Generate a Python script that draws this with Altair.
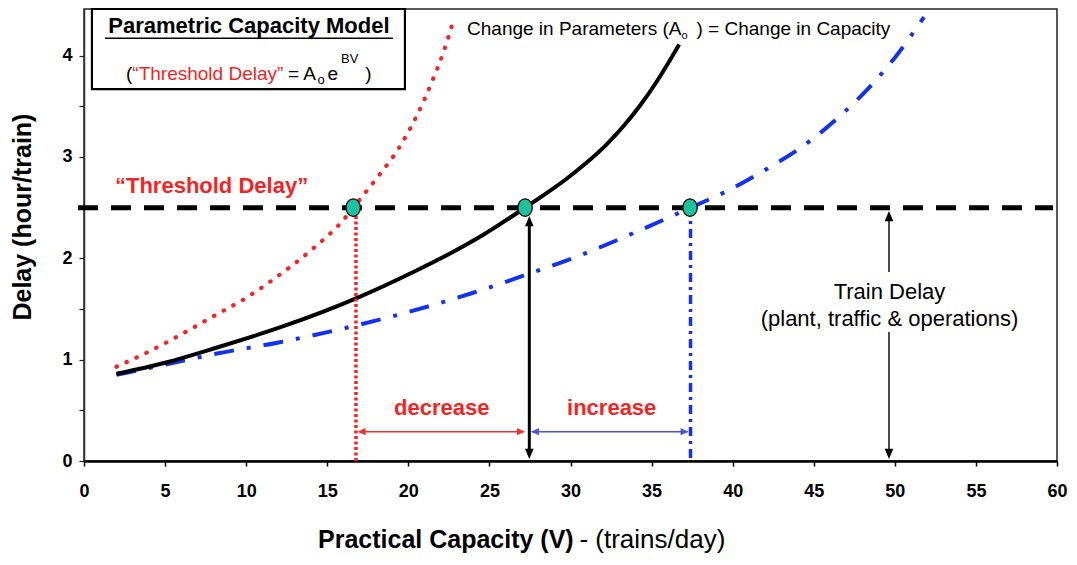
import altair as alt
import pandas as pd

# ---------------- data ----------------
red_v = [2.0, 4.0, 6.0, 8.0, 10.0, 12.0, 14.0, 16.0, 16.6, 18.0, 19.5, 20.5, 21.5, 22.2, 22.8]
red_d = [0.93, 1.08, 1.25, 1.43, 1.61, 1.83, 2.08, 2.38, 2.50, 2.78, 3.11, 3.40, 3.76, 4.05, 4.36]

black_v = [2.0, 5.0, 8.2, 12.3, 16.85, 20.5, 22.6, 24.7, 27.2, 28.5, 29.8, 31.0, 32.2, 33.3, 34.3, 35.3, 36.0, 36.7]
black_d = [0.86, 0.97, 1.12, 1.33, 1.61, 1.88, 2.05, 2.24, 2.50, 2.64, 2.79, 2.945, 3.12, 3.31, 3.51, 3.74, 3.92, 4.11]

blue_v = [2.0, 5.0, 8.2, 12.0, 16.85, 20.0, 24.0, 27.3, 30.6, 33.9, 37.4, 39.6, 42.5, 44.0, 45.5, 47.0, 48.5, 50.0, 51.8]
blue_d = [0.85, 0.95, 1.06, 1.17, 1.34, 1.47, 1.66, 1.84, 2.03, 2.25, 2.50, 2.66, 2.92, 3.07, 3.25, 3.46, 3.70, 3.98, 4.38]

threshold = 2.5
cross_v = [16.6, 27.2, 37.37]          # intersections with the threshold delay
drop_v = [16.77, 27.46, 37.40]         # vertical drop lines (red, black, blue)
train_delay_v = 49.64
arrow_level = 0.289

x_ticks = list(range(0, 61, 5))
y_ticks = [0, 0.5, 1, 1.5, 2, 2.5, 3, 3.5, 4]

FONT = "Liberation Sans, Arial, Helvetica, sans-serif"
RED = "#F42424"
BLUE = "#1232EE"
TEAL = "#1FC09C"

# ---------------- scales / axes ----------------
xscale = alt.Scale(domain=[0, 60], nice=False, zero=False)
yscale = alt.Scale(domain=[0, 4.46], nice=False, zero=False)
xaxis = alt.Axis(values=x_ticks, title=None, grid=False, labelFont=FONT, labelFontSize=18,
                 labelFontWeight="bold", labelColor="black", tickColor="black", tickSize=5,
                 tickWidth=1.5, domainColor="black", domainWidth=2.5, labelPadding=16,
                 labelFlush=False, labelOverlap=False)
yaxis = alt.Axis(values=y_ticks, title=None, grid=False, labelFont=FONT, labelFontSize=18,
                 labelFontWeight="bold", labelColor="black", tickColor="#222", tickSize=5,
                 tickWidth=1.2, domainColor="#333", domainWidth=1.5, labelPadding=7,
                 labelExpr="datum.value % 1 === 0 ? format(datum.value, 'd') : ''",
                 labelOverlap=False)
X = alt.X("v:Q", scale=xscale, axis=xaxis)
Y = alt.Y("d:Q", scale=yscale, axis=yaxis)
X2 = alt.X2("v2:Q")
Y2 = alt.Y2("d2:Q")

# ---------------- curves ----------------
red_df = pd.DataFrame({"v": red_v, "d": red_d})
black_df = pd.DataFrame({"v": black_v, "d": black_d})
blue_df = pd.DataFrame({"v": blue_v, "d": blue_d})

blue_line = alt.Chart(blue_df).mark_line(color=BLUE, strokeWidth=4, strokeDash=[20, 13, 4, 13],
                                         interpolate="monotone").encode(x=X, y=Y)
black_line = alt.Chart(black_df).mark_line(color="black", strokeWidth=4,
                                           interpolate="monotone").encode(x=X, y=Y)
red_line = alt.Chart(red_df).mark_line(color=RED, strokeWidth=4.2, strokeDash=[0.5, 10.5],
                                       strokeCap="round", interpolate="monotone").encode(x=X, y=Y)

# ---------------- title box ----------------
box = alt.Chart(pd.DataFrame({"v": [0.49], "v2": [19.79], "d": [4.46], "d2": [3.67]})).mark_rect(
    fill="white", stroke="black", strokeWidth=2.2).encode(x=X, x2=X2, y=Y, y2=Y2)
underline = alt.Chart(pd.DataFrame({"v": [1.295], "v2": [19.05], "d": [4.171]})).mark_rule(
    color="black", strokeWidth=1.6).encode(x=X, x2=X2, y=Y)

# ---------------- threshold line ----------------
thr = alt.Chart(pd.DataFrame({"v": [-0.37], "v2": [59.75], "d": [threshold]})).mark_rule(
    color="black", strokeWidth=5, strokeDash=[20, 13]).encode(x=X, x2=X2, y=Y)

# ---------------- vertical drop lines ----------------
red_drop = alt.Chart(pd.DataFrame({"v": [drop_v[0]], "d": [0.0], "d2": [2.45]})).mark_rule(
    color=RED, strokeWidth=3.5, strokeDash=[3, 2.5]).encode(x=X, y=Y, y2=Y2)
black_drop = alt.Chart(pd.DataFrame({"v": [drop_v[1]], "d": [0.10], "d2": [2.32]})).mark_rule(
    color="black", strokeWidth=3).encode(x=X, y=Y, y2=Y2)
blue_drop = alt.Chart(pd.DataFrame({"v": [drop_v[2]], "d": [0.03], "d2": [2.45]})).mark_rule(
    color=BLUE, strokeWidth=3.5, strokeDash=[9, 5, 3, 5]).encode(x=X, y=Y, y2=Y2)
td_df = pd.DataFrame({"v": [train_delay_v, train_delay_v], "d": [0.10, 1.865], "d2": [1.273, 2.38]})
td_line = alt.Chart(td_df).mark_rule(color="black", strokeWidth=1.4).encode(x=X, y=Y, y2=Y2)

# ---------------- horizontal arrows ----------------
harrow_df = pd.DataFrame({"v": [16.95, 27.62], "v2": [27.12, 37.22], "d": [arrow_level] * 2,
                          "c": ["red", "blue"]})
harrows = alt.Chart(harrow_df).mark_rule(strokeWidth=1.5).encode(
    x=X, x2=X2, y=Y,
    color=alt.Color("c:N", scale=alt.Scale(domain=["red", "blue"], range=["#F03030", "#4A55D8"]),
                    legend=None))

UP = "M 0 0 L 0.42 1 L -0.42 1 Z"
DOWN = "M 0 0 L 0.42 -1 L -0.42 -1 Z"
LEFT = "M 0 0 L 1 -0.45 L 1 0.45 Z"
RIGHT = "M 0 0 L -1 -0.45 L -1 0.45 Z"

heads_v = [drop_v[1], drop_v[1], train_delay_v, train_delay_v]
heads_d = [2.417, 0.02, 2.467, 0.02]
heads_shape = [UP, DOWN, UP, DOWN]
vheads = alt.Chart(pd.DataFrame({"v": heads_v, "d": heads_d, "s": heads_shape})).mark_point(
    filled=True, color="black", opacity=1, size=420).encode(
    x=X, y=Y, shape=alt.Shape("s:N", scale=None))

hh_v = [16.87, 27.19, 27.56, 37.28]
hh_d = [arrow_level] * 4
hh_shape = [LEFT, RIGHT, LEFT, RIGHT]
hh_col = ["red", "red", "blue", "blue"]
hheads = alt.Chart(pd.DataFrame({"v": hh_v, "d": hh_d, "s": hh_shape, "c": hh_col})).mark_point(
    filled=True, opacity=1, size=256).encode(
    x=X, y=Y, shape=alt.Shape("s:N", scale=None),
    color=alt.Color("c:N", scale=alt.Scale(domain=["red", "blue"], range=["#F03030", "#4A55D8"]),
                    legend=None))

# ---------------- intersection markers ----------------
ELLIPSE = "M -0.82 0 A 0.82 1 0 1 0 0.82 0 A 0.82 1 0 1 0 -0.82 0 Z"
markers = alt.Chart(pd.DataFrame({"v": cross_v, "d": [threshold] * 3})).mark_point(
    shape=ELLIPSE, filled=True, fill=TEAL, stroke="black", strokeWidth=1.2, opacity=1,
    size=310).encode(x=X, y=Y)


# ---------------- texts ----------------
def txt(v, d, t, size, color="black", weight="normal", align="left", baseline="alphabetic",
        angle=0):
    df = pd.DataFrame({"v": [v], "d": [d], "t": [t]})
    return alt.Chart(df).mark_text(align=align, baseline=baseline, font=FONT, fontSize=size,
                                   fontWeight=weight, color=color, angle=angle,
                                   clip=False).encode(x=X, y=Y, text="t:N")


texts = [
    txt(10.17, 4.223, "Parametric Capacity Model", 22, weight="bold", align="center"),
    txt(2.59, 3.759, "(", 19),
    txt(2.98, 3.759, "\u201cThreshold Delay\u201d", 19, color=RED),
    txt(12.58, 3.759, "= A", 19),
    txt(14.40, 3.72, "o", 13),
    txt(15.02, 3.759, "e", 19),
    txt(15.85, 3.927, "BV", 13),
    txt(17.35, 3.759, ")", 19),
    txt(23.62, 4.203, "Change in Parameters (A", 19),
    txt(36.84, 4.164, "o", 11),
    txt(37.77, 4.203, ") = Change in Capacity", 19),
    txt(1.91, 2.644, "\u201cThreshold Delay\u201d", 22, color=RED, weight="bold"),
    txt(22.06, 0.523, "decrease", 22, color=RED, weight="bold", align="center", baseline="middle"),
    txt(32.54, 0.523, "increase", 22, color=RED, weight="bold", align="center", baseline="middle"),
    txt(49.67, 1.667, "Train Delay", 22, align="center", baseline="middle"),
    txt(49.67, 1.401, "(plant, traffic & operations)", 22, align="center", baseline="middle"),
    txt(-3.76, 2.407, "Delay (hour/train)", 25, weight="bold", align="center", baseline="middle",
        angle=270),
    txt(14.43, -0.779, "Practical Capacity (V)", 25, weight="bold", baseline="middle"),
    txt(30.55, -0.779, "- (trains/day)", 26, baseline="middle"),
]

chart = alt.layer(
    box, blue_line, black_line, red_line, underline, thr,
    red_drop, black_drop, blue_drop, td_line, harrows, vheads, hheads, markers, *texts
).properties(
    width=973, height=452,
    autosize=alt.AutoSizeParams(type="none"),
    padding={"left": 76, "top": 1, "right": 10, "bottom": 96},
    background="white",
).configure_view(stroke="#222", strokeWidth=1.5)

chart.save("out.html", embed_options={"renderer": "svg", "actions": False})
